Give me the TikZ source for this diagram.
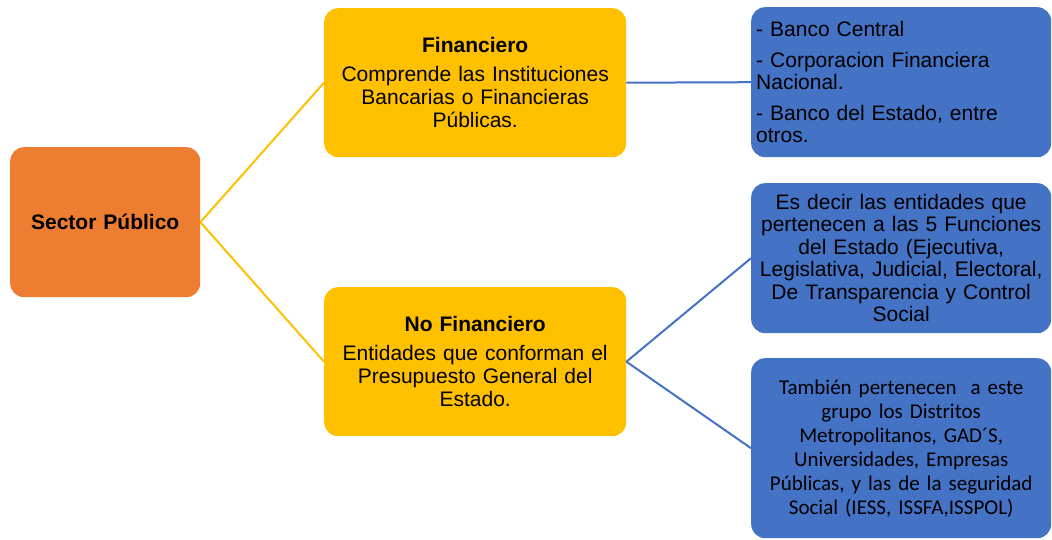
\documentclass[tikz,border=0pt]{standalone}
\usepackage{fontspec}
\setmainfont{Liberation Sans}
\newfontfamily\calibri{Carlito}
\definecolor{orangeB}{HTML}{ED7D31}
\definecolor{yellowB}{HTML}{FFC000}
\definecolor{blueB}{HTML}{4472C4}
\tikzset{
  box/.style={rounded corners=14bp, inner sep=0pt, anchor=north west},
  txt/.style={font=\fontsize{21bp}{23bp}\selectfont},
  yline/.style={draw=yellowB, line width=2bp},
  bline/.style={draw=blueB, line width=2bp},
}
\begin{document}
\begin{tikzpicture}[x=1bp,y=-1bp]
\useasboundingbox (0,0) rectangle (1052,540);
% Sector
\node[box, fill=orangeB, minimum width=190bp, minimum height=150bp, text width=190bp, align=center, txt] (sp) at (10,147) {\textbf{Sector Público}};
% Financiero
\node[box, fill=yellowB, minimum width=302bp, minimum height=149bp, text width=302bp, align=center, txt] (fin) at (324,8)
  {\textbf{Financiero}\\[6bp]Comprende las Instituciones\\Bancarias o Financieras\\Públicas.};
% No Financiero
\node[box, fill=yellowB, minimum width=302bp, minimum height=149bp, text width=302bp, align=center, txt] (nfin) at (324,287)
  {\textbf{No Financiero}\\[6bp]Entidades que conforman el\\Presupuesto General del\\Estado.};
% Blue 1
\node[box, fill=blueB, minimum width=300bp, minimum height=150bp, text width=290bp, inner xsep=5bp, align=left, font=\fontsize{21bp}{22.5bp}\selectfont] (b1) at (751,7)
  {- Banco Central\\[8bp]- Corporacion Financiera\\Nacional.\\[8bp]- Banco del Estado, entre\\otros.};
% Blue 2
\node[box, fill=blueB, minimum width=300bp, minimum height=150bp, text width=300bp, align=center, font=\fontsize{21bp}{22.5bp}\selectfont] (b2) at (751,183)
  {Es decir las entidades que\\pertenecen a las 5 Funciones\\del Estado (Ejecutiva,\\Legislativa, Judicial, Electoral,\\De Transparencia y Control\\Social};
% Blue 3
\node[box, fill=blueB, minimum width=300bp, minimum height=180bp, text width=300bp, align=center, font=\calibri\fontsize{21bp}{24bp}\selectfont] (b3) at (751,358)
  {También pertenecen\ \ a este\\grupo los Distritos\\Metropolitanos, GAD´S,\\Universidades, Empresas\\Públicas, y las de la seguridad\\Social (IESS, ISSFA,ISSPOL)};
% connectors
\draw[yline] (sp.east) -- (fin.west);
\draw[yline] (sp.east) -- (nfin.west);
\draw[bline] (fin.east) -- (b1.west);
\draw[bline] (nfin.east) -- (b2.west);
\draw[bline] (nfin.east) -- (b3.west);
\end{tikzpicture}
\end{document}
